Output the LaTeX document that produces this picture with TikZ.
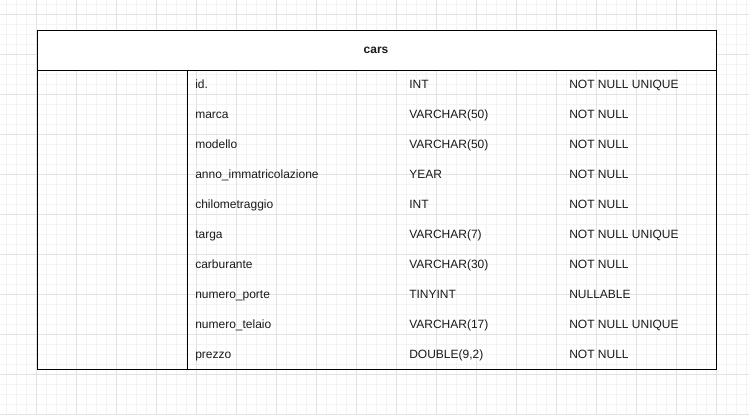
\documentclass[tikz,border=0pt]{standalone}
\usepackage{fontspec}
\setmainfont{Liberation Sans}
\definecolor{gridminor}{HTML}{F3F3F3}
\definecolor{gridmajor}{HTML}{E2E2E2}
\definecolor{ink}{HTML}{1A1A1A}
\begin{document}
\begin{tikzpicture}[x=0.75pt,y=-0.75pt,
  cell/.style={anchor=base west,inner sep=0pt,text=ink,font=\fontsize{9}{11}\selectfont},
  title/.style={anchor=base,inner sep=0pt,text=ink,font=\fontsize{9}{11}\selectfont\bfseries},
  frame/.style={draw=black,line width=0.75pt}]
\useasboundingbox (0,0) rectangle (749,415);
% background grid: fine 10px lines, stronger every 40px
\fill[white] (0,0) rectangle (749,415);
\foreach \x in {6,16,...,746} \draw[gridminor,line width=0.75pt] (\x,0) -- (\x,415);
\foreach \y in {4,14,...,414} \draw[gridminor,line width=0.75pt] (0,\y) -- (749,\y);
\foreach \x in {-4,36,...,716} \draw[gridmajor,line width=0.75pt] (\x,0) -- (\x,415);
\foreach \y in {14,54,...,414} \draw[gridmajor,line width=0.75pt] (0,\y) -- (749,\y);
% table frame
\coordinate (tl) at (37,30);
\coordinate (br) at (716,369);
\fill[white] (37,30) rectangle (716,70);
\draw[frame] (tl) rectangle (br);
\draw[frame] (37,70) -- (716,70);
\draw[frame] (187,70) -- (187,369);
\node[title] (hdr) at (376,53.5) {cars};
% rows: name, type, constraint
\foreach \n/\t/\c [count=\i from 0] in {
  id./INT/NOT NULL UNIQUE,
  marca/VARCHAR(50)/NOT NULL,
  modello/VARCHAR(50)/NOT NULL,
  anno\_immatricolazione/YEAR/NOT NULL,
  chilometraggio/INT/NOT NULL,
  targa/VARCHAR(7)/NOT NULL UNIQUE,
  carburante/VARCHAR(30)/NOT NULL,
  numero\_porte/TINYINT/NULLABLE,
  numero\_telaio/VARCHAR(17)/NOT NULL UNIQUE,
  prezzo/{DOUBLE(9,2)}/NOT NULL}{
  \node[cell] (name\i) at (195,88.5+30*\i) {\n};
  \node[cell] (type\i) at (409,88.5+30*\i) {\t};
  \node[cell] (cons\i) at (569,88.5+30*\i) {\c};
}
\end{tikzpicture}
\end{document}
